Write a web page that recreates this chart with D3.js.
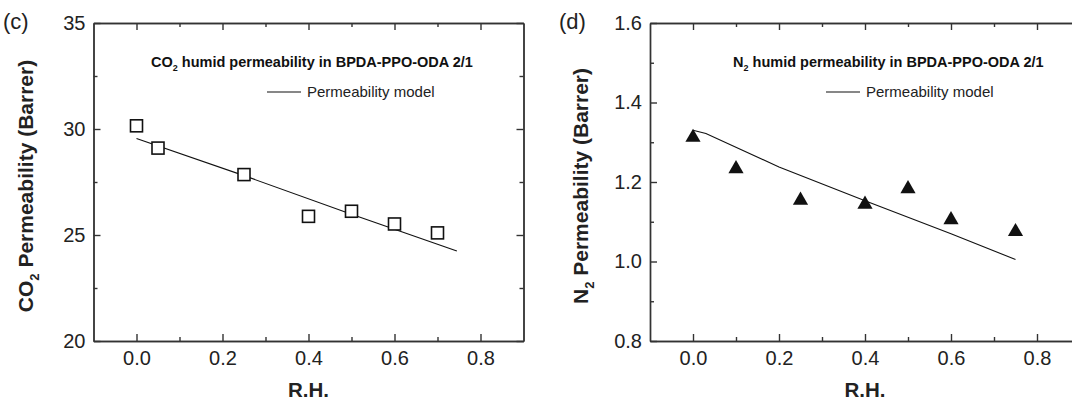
<!DOCTYPE html>
<html>
<head>
<meta charset="utf-8">
<script src="https://cdn.jsdelivr.net/npm/d3@7"></script>
<style>
  body { margin: 0; background: #fff; }
  svg { display: block; font-family: Arial, "Liberation Sans", sans-serif; }
</style>
</head>
<body>
<div class="vis"></div>
<script>
// ---- data ----
const rhTicks = [0.0, 0.2, 0.4, 0.6, 0.8];
const rhMinor = [0.1, 0.3, 0.5, 0.7];

const co2RH = [0, 0.05, 0.25, 0.4, 0.5, 0.6, 0.7];
const co2Perm = [30.15, 29.1, 27.85, 25.88, 26.12, 25.52, 25.1];
const co2ModelRH = [0, 0.25, 0.5, 0.745];
const co2ModelPerm = [29.55, 27.8, 25.98, 24.25];
const co2Ticks = [20, 25, 30, 35];
const co2Minor = [22.5, 27.5, 32.5];

const n2RH = [0, 0.1, 0.25, 0.4, 0.5, 0.6, 0.75];
const n2Perm = [1.312, 1.233, 1.154, 1.144, 1.183, 1.105, 1.075];
const n2ModelRH = [0, 0.03, 0.2, 0.4, 0.6, 0.75];
const n2ModelPerm = [1.33, 1.322, 1.238, 1.153, 1.07, 1.005];
const n2Ticks = [0.8, 1.0, 1.2, 1.4, 1.6];
const n2Minor = [0.9, 1.1, 1.3, 1.5];

const W = 1072, H = 401;
const axisColor = "#333";

const svg = d3.select(".vis").append("svg")
  .attr("width", W)
  .attr("height", H);

function drawPanel(p) {
  const x = d3.scaleLinear().domain([-0.1, 0.9]).range([p.left, p.left + 430]);
  const y = d3.scaleLinear().domain(p.yDomain).range([341, 23]);
  const g = svg.append("g");

  // axes, ticks pointing inward
  g.append("g").attr("transform", "translate(0,341)")
    .call(d3.axisBottom(x).tickValues(rhTicks).tickSize(-7).tickSizeOuter(0)
      .tickPadding(10).tickFormat(d3.format(".1f")));
  g.append("g").attr("transform", "translate(0,341)")
    .call(d3.axisBottom(x).tickValues(rhMinor).tickSize(-4).tickSizeOuter(0).tickFormat(""));
  g.append("g").attr("transform", "translate(0,23)")
    .call(d3.axisTop(x).tickValues(rhTicks).tickSize(-7).tickSizeOuter(0).tickFormat(""));
  g.append("g").attr("transform", "translate(0,23)")
    .call(d3.axisTop(x).tickValues(rhMinor).tickSize(-4).tickSizeOuter(0).tickFormat(""));

  g.append("g").attr("transform", "translate(" + p.left + ",0)")
    .call(d3.axisLeft(y).tickValues(p.yTicks).tickSize(-7).tickSizeOuter(0)
      .tickPadding(8).tickFormat(p.yFormat));
  g.append("g").attr("transform", "translate(" + p.left + ",0)")
    .call(d3.axisLeft(y).tickValues(p.yMinor).tickSize(-4).tickSizeOuter(0).tickFormat(""));
  g.append("g").attr("transform", "translate(" + (p.left + 430) + ",0)")
    .call(d3.axisRight(y).tickValues(p.yTicks).tickSize(-7).tickSizeOuter(0).tickFormat(""));
  g.append("g").attr("transform", "translate(" + (p.left + 430) + ",0)")
    .call(d3.axisRight(y).tickValues(p.yMinor).tickSize(-4).tickSizeOuter(0).tickFormat(""));

  g.selectAll(".domain, .tick line")
    .attr("stroke", axisColor)
    .attr("stroke-width", 1.4);
  g.selectAll(".tick text")
    .style("font-size", "20px")
    .style("font-family", "Arial, 'Liberation Sans', sans-serif")
    .attr("fill", "#222");

  // model line
  const model = p.modelX.map((d, i) => [d, p.modelY[i]]);
  g.append("path")
    .datum(model)
    .attr("fill", "none")
    .attr("stroke", "#111")
    .attr("stroke-width", 1.1)
    .attr("d", d3.line().x(d => x(d[0])).y(d => y(d[1])));

  // measured points
  const pts = p.dataX.map((d, i) => [d, p.dataY[i]]);
  if (p.marker === "square") {
    g.selectAll("rect.pt").data(pts).enter().append("rect")
      .attr("class", "pt")
      .attr("x", d => x(d[0]) - 6)
      .attr("y", d => y(d[1]) - 6)
      .attr("width", 12)
      .attr("height", 12)
      .attr("fill", "#fff")
      .attr("stroke", "#111")
      .attr("stroke-width", 1.6);
  } else {
    g.selectAll("path.pt").data(pts).enter().append("path")
      .attr("class", "pt")
      .attr("transform", d => "translate(" + x(d[0]) + "," + y(d[1]) + ")")
      .attr("d", d3.symbol().type(d3.symbolTriangle).size(100))
      .attr("fill", "#111");
  }

  // inner title with subscript
  const t = g.append("text")
    .attr("x", p.titleX)
    .attr("y", 67)
    .style("font-size", "14.5px")
    .style("font-weight", "bold")
    .attr("fill", "#111");
  t.append("tspan").text(p.gas);
  t.append("tspan").attr("dy", 4).style("font-size", "9px").text("2");
  t.append("tspan").attr("dy", -4).text(" humid permeability in BPDA-PPO-ODA 2/1");

  // legend
  g.append("line")
    .attr("x1", p.legendX).attr("x2", p.legendX + 34)
    .attr("y1", 92).attr("y2", 92)
    .attr("stroke", "#111").attr("stroke-width", 1.1);
  g.append("text")
    .attr("x", p.legendX + 40)
    .attr("y", 97)
    .style("font-size", "15px")
    .attr("fill", "#222")
    .text("Permeability model");

  // axis titles
  g.append("text")
    .attr("x", (p.left + p.left + 430) / 2)
    .attr("y", 397)
    .attr("text-anchor", "middle")
    .style("font-size", "20.5px")
    .style("font-weight", "bold")
    .attr("fill", "#222")
    .text("R.H.");

  const yt = g.append("text")
    .attr("transform", "translate(" + p.yTitleX + ",186) rotate(-90)")
    .attr("text-anchor", "middle")
    .style("font-size", "21px")
    .style("font-weight", "bold")
    .attr("fill", "#222");
  yt.append("tspan").text(p.gas);
  yt.append("tspan").attr("dy", 6).style("font-size", "13px").text("2");
  yt.append("tspan").attr("dy", -6).text(" Permeability (Barrer)");

  // panel letter
  g.append("text")
    .attr("x", p.letterX)
    .attr("y", 29)
    .style("font-size", "22px")
    .attr("fill", "#222")
    .text(p.letter);
}

drawPanel({
  left: 93.5, yDomain: [20, 35], yTicks: co2Ticks, yMinor: co2Minor, yFormat: d3.format("d"),
  dataX: co2RH, dataY: co2Perm, modelX: co2ModelRH, modelY: co2ModelPerm,
  marker: "square", gas: "CO", titleX: 151, legendX: 267, yTitleX: 33, letterX: 3, letter: "(c)"
});

drawPanel({
  left: 650, yDomain: [0.8, 1.6], yTicks: n2Ticks, yMinor: n2Minor, yFormat: d3.format(".1f"),
  dataX: n2RH, dataY: n2Perm, modelX: n2ModelRH, modelY: n2ModelPerm,
  marker: "triangle", gas: "N", titleX: 733, legendX: 826, yTitleX: 588, letterX: 559, letter: "(d)"
});
</script>
</body>
</html>
